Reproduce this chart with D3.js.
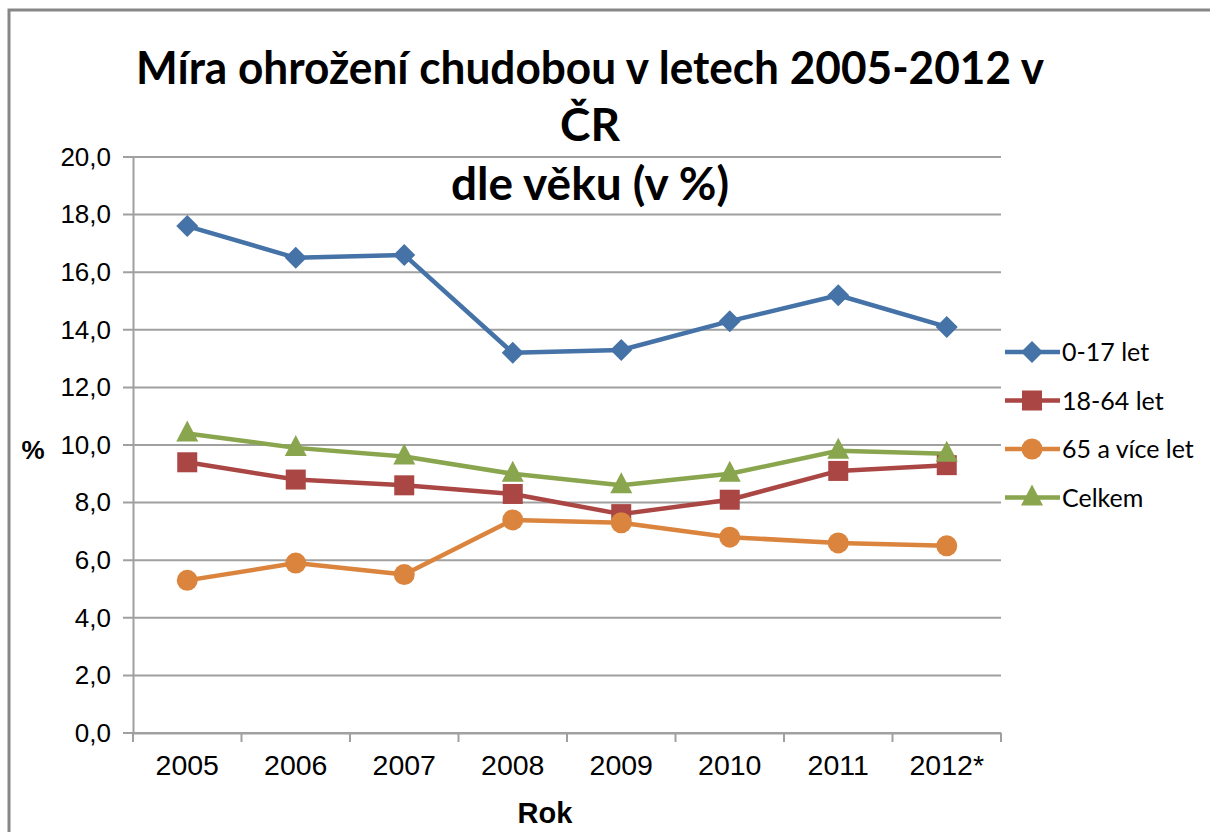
<!DOCTYPE html>
<html><head><meta charset="utf-8">
<script src="https://cdn.jsdelivr.net/npm/d3@7"></script>
<style>html,body{margin:0;padding:0;background:#fff;overflow:hidden}</style>
</head><body><svg id="c" width="1210" height="832"></svg>
<script>
const categories = ["2005","2006","2007","2008","2009","2010","2011","2012*"];
const s0_17 = [17.6,16.5,16.6,13.2,13.3,14.3,15.2,14.1];
const s18_64 = [9.4,8.8,8.6,8.3,7.6,8.1,9.1,9.3];
const s65 = [5.3,5.9,5.5,7.4,7.3,6.8,6.6,6.5];
const sCelkem = [10.4,9.9,9.6,9.0,8.6,9.0,9.8,9.7];
const seriesNames = ["0-17 let","18-64 let","65 a více let","Celkem"];
const yTicks = [0,2,4,6,8,10,12,14,16,18,20];
const titleLines = ["Míra ohrožení chudobou v letech 2005-2012 v","ČR","dle věku (v %)"];
const yTitle = "%";
const xTitle = "Rok";

const series = [
  {name: seriesNames[0], values: s0_17, color: "#4572A7", marker: "diamond"},
  {name: seriesNames[1], values: s18_64, color: "#AA4643", marker: "square"},
  {name: seriesNames[2], values: s65, color: "#DB843D", marker: "circle"},
  {name: seriesNames[3], values: sCelkem, color: "#89A54E", marker: "triangle"}
];

const svg = d3.select("#c");
// chart frame
svg.append("rect").attr("x",9).attr("y",10).attr("width",1300).attr("height",900)
  .attr("fill","#fff").attr("stroke","#878787").attr("stroke-width",3);

const L=133, R=1001, T=157, B=733;
const x = d3.scaleBand().domain(categories).range([L,R]);
const y = d3.scaleLinear().domain([0,20]).range([B,T]);

// gridlines
svg.append("g").selectAll("line").data(yTicks).join("line")
  .attr("x1",L-10).attr("x2",R).attr("y1",d=>y(d)).attr("y2",d=>y(d))
  .attr("stroke","#a0a0a0").attr("stroke-width",2);

// y axis
const yAxis = svg.append("g").attr("transform",`translate(${L},0)`)
  .call(d3.axisLeft(y).tickValues(yTicks).tickSize(0).tickPadding(22)
  .tickFormat(d=>d3.format(".1f")(d).replace(".",",")));
yAxis.select(".domain").attr("stroke","#a0a0a0").attr("stroke-width",2);
yAxis.selectAll("text").attr("font-family","Arial, 'Liberation Sans', sans-serif").attr("font-size",26).attr("fill","#000");

// x axis
const xAxis = svg.append("g").attr("transform",`translate(0,${B})`)
  .call(d3.axisBottom(x).tickSize(0).tickPadding(22));
xAxis.select(".domain").attr("stroke","#a0a0a0").attr("stroke-width",2);
xAxis.selectAll("text").attr("font-family","Arial, 'Liberation Sans', sans-serif").attr("font-size",28.5).attr("fill","#000");
// boundary ticks
const bounds = categories.map(c=>x(c)).concat([R]);
svg.append("g").selectAll("line").data(bounds).join("line")
  .attr("x1",d=>d).attr("x2",d=>d).attr("y1",B).attr("y2",B+9)
  .attr("stroke","#a0a0a0").attr("stroke-width",2);

// lines & markers
const cx = c => x(c)+x.bandwidth()/2;
function marker(g, m, color){
  if(m==="diamond"){
    g.append("path").attr("d","M0,-11L11,0L0,11L-11,0Z").attr("fill",color);
  } else if(m==="square"){
    g.append("rect").attr("x",-10).attr("y",-10).attr("width",20).attr("height",20).attr("fill",color);
  } else if(m==="circle"){
    g.append("circle").attr("r",10.5).attr("fill",color);
  } else {
    g.append("path").attr("d","M0,-13L11,8L-11,8Z").attr("fill",color);
  }
}
const line = d3.line().x((d,i)=>cx(categories[i])).y(d=>y(d));
series.forEach(s=>{
  svg.append("path").attr("d",line(s.values)).attr("fill","none")
    .attr("stroke",s.color).attr("stroke-width",4.5).attr("stroke-linejoin","round");
});
series.forEach(s=>{
  s.values.forEach((v,i)=>{
    const g = svg.append("g").attr("transform",`translate(${cx(categories[i])},${y(v)})`);
    marker(g,s.marker,s.color);
  });
});

// title
const titleY = [84, 141, 200];
titleLines.forEach((t,i)=>{
  const tx = svg.append("text").attr("x",590).attr("y",titleY[i]).attr("text-anchor","middle")
    .attr("font-family","Lato, 'Open Sans', sans-serif").attr("font-weight","bold").attr("font-size",46)
    .attr("fill","#000").text(t);
  if(i===0){ tx.attr("textLength",908).attr("lengthAdjust","spacingAndGlyphs"); }
  if(i===2){ tx.attr("textLength",278).attr("lengthAdjust","spacingAndGlyphs"); }
});

// axis titles
svg.append("text").attr("x",33).attr("y",459).attr("text-anchor","middle")
  .attr("font-family","Arial, 'Liberation Sans', sans-serif").attr("font-weight","bold").attr("font-size",26).text(yTitle);
svg.append("text").attr("x",545).attr("y",823).attr("text-anchor","middle")
  .attr("font-family","Arial, 'Liberation Sans', sans-serif").attr("font-weight","bold").attr("font-size",29).text(xTitle);

// legend
const lg = svg.append("g");
series.forEach((s,i)=>{
  const yy = 352 + i*48.5;
  lg.append("line").attr("x1",1005).attr("x2",1060).attr("y1",yy).attr("y2",yy)
    .attr("stroke",s.color).attr("stroke-width",4.5);
  const g = lg.append("g").attr("transform",`translate(1032,${yy})`);
  marker(g,s.marker,s.color);
  lg.append("text").attr("x",1062).attr("y",yy+9).attr("font-family","Lato, 'Open Sans', sans-serif")
    .attr("font-size",25).attr("fill","#000").text(s.name);
});
</script></body></html>
